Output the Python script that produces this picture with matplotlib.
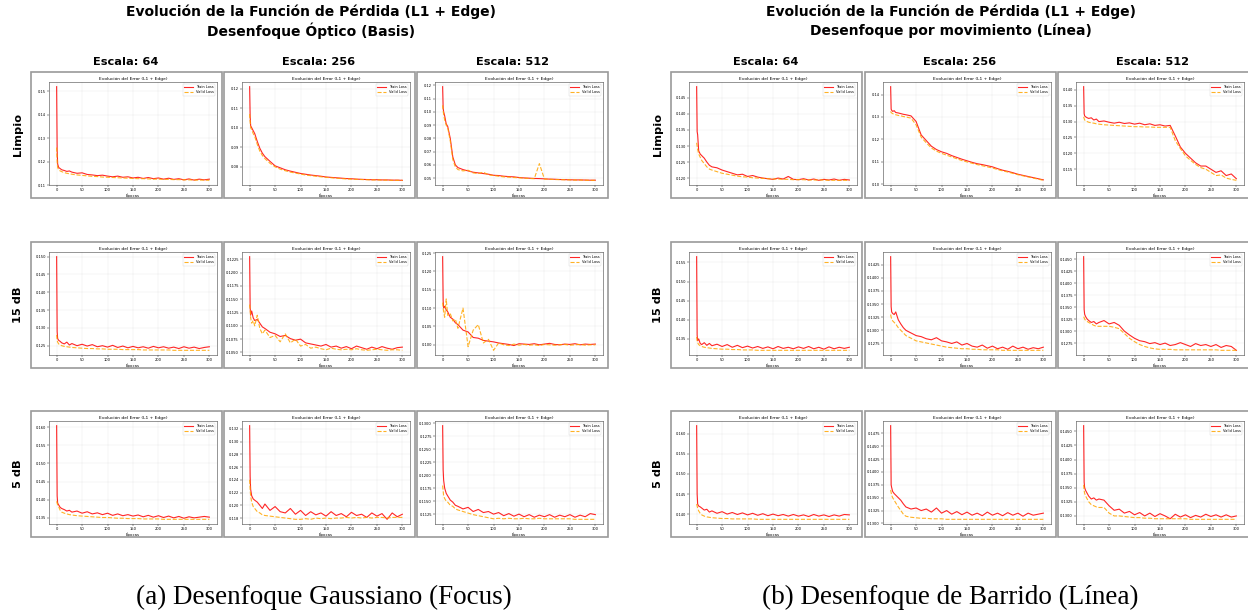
import matplotlib.pyplot as plt
from matplotlib.patches import Rectangle
from matplotlib.ticker import MultipleLocator

# ---------------------------------------------------------------------------
# Datos (valores aproximados por epoca)
epocas = [0, 1, 2, 4, 7, 10, 15, 20, 25, 30, 40, 50, 60, 70, 80, 90, 100, 110, 120,
          130, 140, 150, 160, 170, 180, 190, 200, 210, 220, 230, 240, 250, 260, 270,
          280, 290, 300]

escalas = ["64", "256", "512"]
filas = ["Limpio", "15 dB", "5 dB"]

# --- Desenfoque Gaussiano (Focus) ---
g_l64_tr = [0.152, 0.125, 0.119, 0.1175, 0.117, 0.1165, 0.1162, 0.1158, 0.1160, 0.1155, 0.1150, 0.1152, 0.1145,
            0.1143, 0.1140, 0.1142, 0.1138, 0.1135, 0.1138, 0.1133, 0.1135, 0.1130, 0.1133, 0.1128, 0.1132, 0.1127,
            0.1130, 0.1125, 0.1129, 0.1124, 0.1127, 0.1122, 0.1126, 0.1121, 0.1125, 0.1122, 0.1125]
g_l64_va = [0.126, 0.120, 0.1175, 0.1165, 0.116, 0.1157, 0.1153, 0.1150, 0.1148, 0.1146, 0.1143, 0.1141, 0.1139,
            0.1137, 0.1136, 0.1134, 0.1133, 0.1132, 0.1131, 0.1130, 0.1129, 0.1128, 0.1127, 0.1127, 0.1126, 0.1125,
            0.1125, 0.1124, 0.1124, 0.1123, 0.1123, 0.1122, 0.1122, 0.1121, 0.1121, 0.1121, 0.1120]
g_l256_tr = [0.121, 0.106, 0.101, 0.100, 0.0985, 0.097, 0.093, 0.0895, 0.087, 0.0852, 0.0828, 0.0805, 0.0795,
             0.0785, 0.0778, 0.0772, 0.0766, 0.0762, 0.0758, 0.0755, 0.0752, 0.0748, 0.0746, 0.0744, 0.0742, 0.0740,
             0.0739, 0.0737, 0.0736, 0.0735, 0.0734, 0.0734, 0.0733, 0.0733, 0.0732, 0.0732, 0.0731]
g_l256_va = [0.107, 0.103, 0.100, 0.099, 0.097, 0.0955, 0.0915, 0.088, 0.0858, 0.0842, 0.0818, 0.080, 0.0788,
             0.078, 0.0773, 0.0768, 0.0763, 0.0758, 0.0755, 0.0752, 0.0749, 0.0746, 0.0744, 0.0742, 0.0740, 0.0738,
             0.0737, 0.0736, 0.0735, 0.0734, 0.0733, 0.0733, 0.0732, 0.0732, 0.0731, 0.0731, 0.0731]
g_l512_tr = [0.119, 0.103, 0.100, 0.097, 0.091, 0.089, 0.080, 0.066, 0.060, 0.058, 0.0565, 0.0555, 0.0545,
             0.054, 0.0535, 0.053, 0.0522, 0.052, 0.0515, 0.0512, 0.051, 0.0505, 0.0502, 0.050, 0.0498, 0.0497,
             0.0495, 0.0493, 0.0492, 0.049, 0.0489, 0.0488, 0.0487, 0.0487, 0.0486, 0.0485, 0.0485]
g_l512_va = [0.105, 0.101, 0.098, 0.094, 0.090, 0.088, 0.078, 0.064, 0.0585, 0.0565, 0.0555, 0.056, 0.054,
             0.0535, 0.0545, 0.0525, 0.052, 0.0515, 0.051, 0.0508, 0.0505, 0.0503, 0.050, 0.0498, 0.0496, 0.061,
             0.0493, 0.0492, 0.049, 0.0489, 0.0488, 0.0487, 0.0486, 0.0486, 0.0485, 0.0484, 0.0484]

g_15_64_tr = [0.150, 0.129, 0.127, 0.1265, 0.1262, 0.1258, 0.1255, 0.1260, 0.1252, 0.1256, 0.1250, 0.1254, 0.1249,
              0.1253, 0.1247, 0.1250, 0.1246, 0.1251, 0.1245, 0.1249, 0.1244, 0.1248, 0.1244, 0.1247, 0.1243, 0.1248,
              0.1244, 0.1247, 0.1243, 0.1246, 0.1242, 0.1247, 0.1243, 0.1246, 0.1242, 0.1245, 0.1247]
g_15_64_va = [0.128, 0.1265, 0.126, 0.1255, 0.1252, 0.125, 0.1248, 0.1247, 0.1246, 0.1245, 0.1244, 0.1243, 0.1242,
              0.1242, 0.1241, 0.1241, 0.1240, 0.1240, 0.1240, 0.1239, 0.1239, 0.1239, 0.1239, 0.1238, 0.1238, 0.1238,
              0.1238, 0.1238, 0.1238, 0.1237, 0.1237, 0.1237, 0.1237, 0.1237, 0.1237, 0.1237, 0.1237]
g_15_256_tr = [0.1230, 0.1135, 0.1120, 0.1128, 0.1115, 0.1110, 0.1112, 0.1105, 0.1098, 0.1095, 0.1088, 0.1085, 0.1080,
               0.1082, 0.1076, 0.1073, 0.1075, 0.1068, 0.1066, 0.1064, 0.1062, 0.1065, 0.1060, 0.1062, 0.1058, 0.1061,
               0.1057, 0.1062, 0.1059, 0.1056, 0.1060, 0.1057, 0.1061, 0.1058, 0.1056, 0.1059, 0.1060]
g_15_256_va = [0.1140, 0.1130, 0.1115, 0.1105, 0.1110, 0.1100, 0.1120, 0.1095, 0.1085, 0.1092, 0.1078, 0.1082, 0.1070,
               0.1085, 0.1068, 0.1075, 0.1062, 0.1065, 0.1058, 0.1060, 0.1057, 0.1055, 0.1058, 0.1056, 0.1055, 0.1056,
               0.1055, 0.1057, 0.1055, 0.1054, 0.1055, 0.1056, 0.1055, 0.1054, 0.1055, 0.1055, 0.1054]
g_15_512_tr = [0.124, 0.112, 0.110, 0.1105, 0.1095, 0.109, 0.1075, 0.107, 0.106, 0.1055, 0.104, 0.1035, 0.102,
               0.1018, 0.1012, 0.1010, 0.1008, 0.1005, 0.1003, 0.1001, 0.0998, 0.1003, 0.1002, 0.1001, 0.1003, 0.1000,
               0.1002, 0.1004, 0.1001, 0.1000, 0.1002, 0.1001, 0.1003, 0.1000, 0.1002, 0.1001, 0.1002]
g_15_512_va = [0.1115, 0.110, 0.109, 0.1075, 0.1125, 0.108, 0.1085, 0.1065, 0.1070, 0.1045, 0.1100, 0.0995, 0.1040,
               0.1055, 0.1005, 0.1015, 0.0985, 0.1005, 0.1000, 0.0998, 0.1002, 0.0999, 0.1001, 0.0999, 0.1000, 0.0998,
               0.1001, 0.1000, 0.0999, 0.1000, 0.1001, 0.0999, 0.1000, 0.1001, 0.0999, 0.1000, 0.1000]

g_5_64_tr = [0.1605, 0.141, 0.139, 0.1385, 0.1378, 0.1375, 0.1372, 0.1368, 0.1370, 0.1365, 0.1368, 0.1362, 0.1366,
             0.1360, 0.1363, 0.1358, 0.1362, 0.1356, 0.1360, 0.1355, 0.1358, 0.1354, 0.1357, 0.1352, 0.1356, 0.1351,
             0.1355, 0.1350, 0.1354, 0.1349, 0.1353, 0.1348, 0.1352, 0.1349, 0.1351, 0.1353, 0.1351]
g_5_64_va = [0.1395, 0.139, 0.1385, 0.138, 0.137, 0.1365, 0.1362, 0.1360, 0.1358, 0.1357, 0.1355, 0.1354, 0.1353,
             0.1352, 0.1351, 0.1350, 0.1350, 0.1349, 0.1348, 0.1348, 0.1347, 0.1347, 0.1347, 0.1346, 0.1346, 0.1346,
             0.1346, 0.1345, 0.1345, 0.1345, 0.1345, 0.1345, 0.1345, 0.1345, 0.1345, 0.1345, 0.1345]
g_5_256_tr = [0.1325, 0.1245, 0.1225, 0.1215, 0.1210, 0.1208, 0.1205, 0.1200, 0.1195, 0.1202, 0.1192, 0.1198, 0.1190,
              0.1188, 0.1195, 0.1186, 0.1192, 0.1184, 0.1190, 0.1185, 0.1188, 0.1183, 0.1190, 0.1184, 0.1187, 0.1182,
              0.1189, 0.1184, 0.1186, 0.1181, 0.1188, 0.1183, 0.1187, 0.1178, 0.1188, 0.1182, 0.1186]
g_5_256_va = [0.1240, 0.1225, 0.1215, 0.1205, 0.1198, 0.1195, 0.1190, 0.1188, 0.1185, 0.1184, 0.1183, 0.1182, 0.1181,
              0.1180, 0.1179, 0.1178, 0.1178, 0.1179, 0.1178, 0.1180, 0.1179, 0.1180, 0.1179, 0.1180, 0.1180, 0.1181,
              0.1180, 0.1181, 0.1180, 0.1181, 0.1180, 0.1181, 0.1181, 0.1180, 0.1181, 0.1181, 0.1181]
g_5_512_tr = [0.1295, 0.121, 0.119, 0.1175, 0.1165, 0.1160, 0.1152, 0.1148, 0.1142, 0.1140, 0.1135, 0.1138, 0.1130,
              0.1134, 0.1128, 0.1130, 0.1125, 0.1128, 0.1122, 0.1126, 0.1121, 0.1125, 0.1120, 0.1124, 0.1119, 0.1123,
              0.1120, 0.1124, 0.1119, 0.1123, 0.1120, 0.1124, 0.1119, 0.1123, 0.1120, 0.1126, 0.1124]
g_5_512_va = [0.1180, 0.1170, 0.1160, 0.1155, 0.1150, 0.1148, 0.1142, 0.1140, 0.1135, 0.1133, 0.1130, 0.1127, 0.1124,
              0.1122, 0.1120, 0.1118, 0.1116, 0.1117, 0.1116, 0.1117, 0.1116, 0.1116, 0.1117, 0.1116, 0.1116, 0.1117,
              0.1116, 0.1116, 0.1116, 0.1116, 0.1116, 0.1116, 0.1115, 0.1115, 0.1115, 0.1115, 0.1115]

# --- Desenfoque por movimiento (Linea) ---
m_l64_tr = [0.1485, 0.1345, 0.1335, 0.1285, 0.1275, 0.1270, 0.1262, 0.1250, 0.1240, 0.1235, 0.1232, 0.1225, 0.1220,
            0.1215, 0.1210, 0.1212, 0.1205, 0.1208, 0.1203, 0.1200, 0.1198, 0.1196, 0.1200, 0.1197, 0.1205, 0.1196,
            0.1195, 0.1198, 0.1194, 0.1197, 0.1193, 0.1196, 0.1194, 0.1197, 0.1193, 0.1196, 0.1194]
m_l64_va = [0.131, 0.130, 0.129, 0.1275, 0.1265, 0.1255, 0.1245, 0.1235, 0.1228, 0.1225, 0.1220, 0.1215, 0.1212,
            0.1209, 0.1206, 0.1204, 0.1203, 0.1201, 0.1200, 0.1199, 0.1198, 0.1197, 0.1197, 0.1196, 0.1196, 0.1195,
            0.1195, 0.1195, 0.1194, 0.1194, 0.1194, 0.1194, 0.1193, 0.1193, 0.1193, 0.1193, 0.1193]
m_l256_tr = [0.1435, 0.1335, 0.1330, 0.1325, 0.1328, 0.1320, 0.1318, 0.1315, 0.1312, 0.1310, 0.1305, 0.1280, 0.1220,
             0.1195, 0.1170, 0.1155, 0.1145, 0.1138, 0.1128, 0.1120, 0.1112, 0.1105, 0.1098, 0.1092, 0.1088, 0.1083,
             0.1078, 0.1070, 0.1063, 0.1058, 0.1052, 0.1045, 0.1040, 0.1035, 0.1030, 0.1025, 0.1020]
m_l256_va = [0.1325, 0.1320, 0.1318, 0.1315, 0.1312, 0.1310, 0.1307, 0.1305, 0.1302, 0.1300, 0.1295, 0.1265, 0.1210,
             0.1185, 0.1162, 0.1148, 0.1138, 0.1130, 0.1122, 0.1114, 0.1106, 0.1100, 0.1094, 0.1088, 0.1083, 0.1078,
             0.1073, 0.1066, 0.1060, 0.1055, 0.1049, 0.1043, 0.1038, 0.1033, 0.1028, 0.1023, 0.1018]
m_l512_tr = [0.141, 0.1325, 0.1318, 0.1315, 0.1312, 0.1310, 0.1312, 0.1305, 0.1308, 0.1300, 0.1302, 0.1298, 0.1295,
             0.1298, 0.1294, 0.1296, 0.1292, 0.1295, 0.1290, 0.1293, 0.1288, 0.1290, 0.1286, 0.1288, 0.1255, 0.1220,
             0.1200, 0.1185, 0.1170, 0.1160, 0.1160, 0.1150, 0.1140, 0.1145, 0.1130, 0.1135, 0.1120]
m_l512_va = [0.1315, 0.1310, 0.1305, 0.1303, 0.1300, 0.1298, 0.1296, 0.1295, 0.1293, 0.1292, 0.1290, 0.1289, 0.1288,
             0.1287, 0.1286, 0.1285, 0.1284, 0.1284, 0.1283, 0.1283, 0.1282, 0.1282, 0.1282, 0.1282, 0.1240, 0.1215,
             0.1192, 0.1178, 0.1165, 0.1155, 0.1150, 0.1140, 0.1130, 0.1132, 0.1122, 0.1118, 0.1115]

m_15_64_tr = [0.1565, 0.136, 0.1345, 0.1350, 0.1338, 0.1335, 0.1340, 0.1333, 0.1338, 0.1332, 0.1336, 0.1330, 0.1335,
              0.1328, 0.1333, 0.1327, 0.1331, 0.1326, 0.1330, 0.1325, 0.1329, 0.1324, 0.1330, 0.1325, 0.1328, 0.1324,
              0.1329, 0.1325, 0.1330, 0.1324, 0.1328, 0.1323, 0.1329, 0.1324, 0.1328, 0.1325, 0.1328]
m_15_64_va = [0.1355, 0.1345, 0.1340, 0.1335, 0.1332, 0.1330, 0.1328, 0.1327, 0.1326, 0.1325, 0.1324, 0.1323, 0.1323,
              0.1322, 0.1322, 0.1321, 0.1321, 0.1321, 0.1320, 0.1320, 0.1320, 0.1320, 0.1320, 0.1320, 0.1320, 0.1320,
              0.1320, 0.1320, 0.1320, 0.1320, 0.1320, 0.1320, 0.1320, 0.1320, 0.1320, 0.1320, 0.1320]
m_15_256_tr = [0.1440, 0.1345, 0.1335, 0.1332, 0.1330, 0.1335, 0.1320, 0.1312, 0.1305, 0.1300, 0.1295, 0.1290, 0.1288,
               0.1284, 0.1282, 0.1286, 0.1280, 0.1278, 0.1275, 0.1278, 0.1272, 0.1275, 0.1270, 0.1268, 0.1272, 0.1266,
               0.1270, 0.1265, 0.1268, 0.1264, 0.1270, 0.1265, 0.1268, 0.1264, 0.1267, 0.1265, 0.1268]
m_15_256_va = [0.1330, 0.1325, 0.1322, 0.1318, 0.1315, 0.1312, 0.1305, 0.1300, 0.1295, 0.1290, 0.1285, 0.1280, 0.1278,
               0.1276, 0.1274, 0.1272, 0.1270, 0.1268, 0.1267, 0.1266, 0.1265, 0.1265, 0.1264, 0.1264, 0.1263, 0.1263,
               0.1263, 0.1263, 0.1262, 0.1262, 0.1262, 0.1262, 0.1262, 0.1262, 0.1262, 0.1262, 0.1262]
m_15_512_tr = [0.1455, 0.1345, 0.1335, 0.1330, 0.1325, 0.1322, 0.1318, 0.1320, 0.1315, 0.1318, 0.1322, 0.1315, 0.1318,
               0.1312, 0.1300, 0.1292, 0.1285, 0.1280, 0.1278, 0.1274, 0.1276, 0.1272, 0.1275, 0.1270, 0.1272, 0.1276,
               0.1272, 0.1268, 0.1274, 0.1270, 0.1272, 0.1268, 0.1272, 0.1266, 0.1270, 0.1268, 0.1260]
m_15_512_va = [0.1330, 0.1328, 0.1325, 0.1322, 0.1320, 0.1318, 0.1315, 0.1312, 0.1310, 0.1310, 0.1310, 0.1310, 0.1308,
               0.1305, 0.1295, 0.1285, 0.1278, 0.1272, 0.1268, 0.1265, 0.1263, 0.1262, 0.1262, 0.1262, 0.1261, 0.1261,
               0.1261, 0.1261, 0.1261, 0.1261, 0.1261, 0.1261, 0.1261, 0.1260, 0.1260, 0.1260, 0.1260]

m_5_64_tr = [0.162, 0.145, 0.1425, 0.1420, 0.1418, 0.1415, 0.1410, 0.1412, 0.1405, 0.1408, 0.1402, 0.1406, 0.1400,
             0.1404, 0.1399, 0.1403, 0.1398, 0.1402, 0.1397, 0.1401, 0.1396, 0.1400, 0.1396, 0.1399, 0.1395, 0.1399,
             0.1395, 0.1398, 0.1394, 0.1399, 0.1395, 0.1398, 0.1394, 0.1398, 0.1395, 0.1399, 0.1398]
m_5_64_va = [0.1425, 0.1420, 0.1415, 0.1408, 0.1402, 0.1398, 0.1395, 0.1393, 0.1392, 0.1391, 0.1390, 0.1389, 0.1389,
             0.1388, 0.1388, 0.1388, 0.1388, 0.1388, 0.1387, 0.1387, 0.1387, 0.1387, 0.1387, 0.1387, 0.1387, 0.1387,
             0.1387, 0.1387, 0.1387, 0.1387, 0.1387, 0.1387, 0.1387, 0.1387, 0.1387, 0.1387, 0.1387]
m_5_256_tr = [0.1490, 0.1375, 0.1370, 0.1362, 0.1358, 0.1355, 0.1350, 0.1345, 0.1338, 0.1332, 0.1328, 0.1330, 0.1325,
              0.1328, 0.1322, 0.1330, 0.1320, 0.1325, 0.1318, 0.1323, 0.1317, 0.1322, 0.1316, 0.1320, 0.1315, 0.1322,
              0.1316, 0.1320, 0.1315, 0.1321, 0.1316, 0.1320, 0.1314, 0.1320, 0.1316, 0.1318, 0.1320]
m_5_256_va = [0.1365, 0.1360, 0.1355, 0.1350, 0.1345, 0.1340, 0.1332, 0.1325, 0.1318, 0.1314, 0.1312, 0.1311, 0.1310,
              0.1310, 0.1309, 0.1309, 0.1309, 0.1308, 0.1308, 0.1308, 0.1308, 0.1308, 0.1308, 0.1308, 0.1308, 0.1308,
              0.1308, 0.1308, 0.1308, 0.1308, 0.1308, 0.1308, 0.1308, 0.1308, 0.1308, 0.1308, 0.1308]
m_5_512_tr = [0.1460, 0.1360, 0.1350, 0.1345, 0.1340, 0.1335, 0.1330, 0.1332, 0.1328, 0.1330, 0.1328, 0.1318, 0.1310,
              0.1312, 0.1305, 0.1308, 0.1302, 0.1306, 0.1300, 0.1305, 0.1299, 0.1304, 0.1300, 0.1295, 0.1303, 0.1298,
              0.1302, 0.1297, 0.1301, 0.1298, 0.1303, 0.1299, 0.1302, 0.1298, 0.1302, 0.1298, 0.1300]
m_5_512_va = [0.1355, 0.1345, 0.1340, 0.1335, 0.1330, 0.1325, 0.1320, 0.1318, 0.1316, 0.1315, 0.1315, 0.1305, 0.1300,
              0.1300, 0.1299, 0.1298, 0.1297, 0.1297, 0.1296, 0.1296, 0.1295, 0.1295, 0.1295, 0.1295, 0.1295, 0.1295,
              0.1295, 0.1294, 0.1294, 0.1294, 0.1294, 0.1294, 0.1294, 0.1294, 0.1294, 0.1294, 0.1294]

# paso de las marcas del eje y en cada panel
g_ystep = [[0.01, 0.01, 0.01], [0.005, 0.0025, 0.005], [0.005, 0.002, 0.0025]]
m_ystep = [[0.005, 0.01, 0.005], [0.005, 0.0025, 0.0025], [0.005, 0.0025, 0.0025]]

gauss = [[(g_l64_tr, g_l64_va), (g_l256_tr, g_l256_va), (g_l512_tr, g_l512_va)],
         [(g_15_64_tr, g_15_64_va), (g_15_256_tr, g_15_256_va), (g_15_512_tr, g_15_512_va)],
         [(g_5_64_tr, g_5_64_va), (g_5_256_tr, g_5_256_va), (g_5_512_tr, g_5_512_va)]]
motion = [[(m_l64_tr, m_l64_va), (m_l256_tr, m_l256_va), (m_l512_tr, m_l512_va)],
          [(m_15_64_tr, m_15_64_va), (m_15_256_tr, m_15_256_va), (m_15_512_tr, m_15_512_va)],
          [(m_5_64_tr, m_5_64_va), (m_5_256_tr, m_5_256_va), (m_5_512_tr, m_5_512_va)]]

# ---------------------------------------------------------------------------
W, H = 1248, 613
fig = plt.figure(figsize=(W / 100, H / 100), dpi=100)

BOX_H = 126
box_y = [72, 242, 411]


def rect(x, y, w, h):
    # pixeles (origen arriba a la izquierda) -> coordenadas de figura
    return [x / W, 1 - (y + h) / H, w / W, h / H]


def mini_plot(bx, by, bw, train, valid, ystep):
    fig.add_artist(Rectangle((bx / W, 1 - (by + BOX_H) / H), bw / W, BOX_H / H,
                             transform=fig.transFigure, fill=False, ec='#9a9a9a', lw=1.2))
    ax = fig.add_axes(rect(bx + 18, by + 10, bw - 23, 103))
    ax.plot(epocas, train, color='red', lw=0.8, alpha=0.85, label='Train Loss')
    ax.plot(epocas, valid, color='orange', ls='--', lw=0.8, alpha=0.85, label='Valid Loss')
    ax.set_title('Evolución del Error (L1 + Edge)', fontsize=3.2, pad=1.5)
    ax.set_xlabel('Épocas', fontsize=2.8, labelpad=1)
    ax.xaxis.set_major_locator(MultipleLocator(50))
    ax.yaxis.set_major_locator(MultipleLocator(ystep))
    ax.ticklabel_format(axis='y', useOffset=False)
    ax.tick_params(labelsize=2.6, length=1.2, width=0.3, pad=1)
    ax.grid(True, alpha=0.3, lw=0.3)
    for s in ax.spines.values():
        s.set_linewidth(0.4)
        s.set_color('#444444')
    leg = ax.legend(loc='upper right', fontsize=2.6, handlelength=2.5, borderpad=0.4,
                    labelspacing=0.3, framealpha=0.8)
    leg.get_frame().set_linewidth(0.3)


def panel(box_x, datos, ysteps, titulo, tx, lab_x, caption, cx):
    for k, linea in enumerate(titulo):
        fig.text(tx / W, 1 - (12 + 19 * k) / H, linea, ha='center', va='center',
                 fontsize=10, fontweight='bold')
    for j, esc in enumerate(escalas):
        fig.text((box_x[j] + 95) / W, 1 - 62 / H, 'Escala: ' + esc, ha='center', va='center',
                 fontsize=8.2, fontweight='bold')
    for i, fila in enumerate(filas):
        fig.text(lab_x / W, 1 - (box_y[i] + BOX_H / 2) / H, fila, ha='center', va='center',
                 rotation=90, fontsize=8.2, fontweight='bold')
        for j in range(3):
            tr, va = datos[i][j]
            mini_plot(box_x[j], box_y[i], 191, tr, va, ysteps[i][j])
    fig.text(cx / W, 1 - 597 / H, caption, ha='center', va='center', fontsize=19.5,
             family='Liberation Serif')


panel([31, 224, 417], gauss, g_ystep,
      ['Evolución de la Función de Pérdida (L1 + Edge)', 'Desenfoque Óptico (Basis)'], 311, 18,
      '(a) Desenfoque Gaussiano (Focus)', 324)
panel([671, 865, 1058], motion, m_ystep,
      ['Evolución de la Función de Pérdida (L1 + Edge)', 'Desenfoque por movimiento (Línea)'], 951, 658,
      '(b) Desenfoque de Barrido (Línea)', 950)

fig.savefig('out.png', dpi=100)
